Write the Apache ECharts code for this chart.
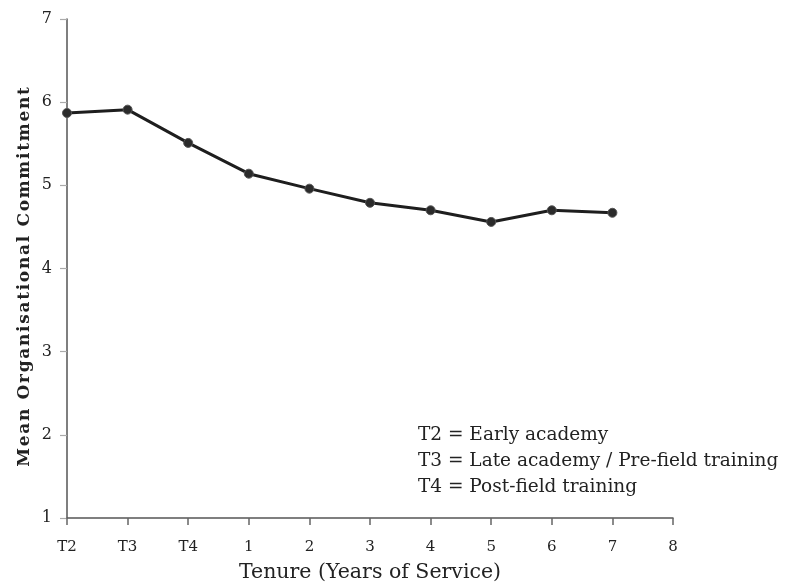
<!DOCTYPE html>
<html>
<head>
<meta charset="utf-8">
<script src="https://cdn.jsdelivr.net/npm/echarts@6/dist/echarts.min.js"></script>
<style>
  html, body { margin: 0; padding: 0; background: #fff; }
  #chart { width: 793px; height: 583px; }
</style>
</head>
<body>
<div id="chart"></div>
<script>
// Tenure points along the x axis (training stages, then years of service)
const tenureLabels = ['T2', 'T3', 'T4', '1', '2', '3', '4', '5', '6', '7', '8'];
// Mean organisational commitment at each tenure point (no value for year 8)
const meanCommitment = [5.87, 5.91, 5.51, 5.14, 4.96, 4.79, 4.70, 4.56, 4.70, 4.67, null];
// Value axis ticks
const yTicks = [1, 2, 3, 4, 5, 6, 7];
// Key for the training-stage codes
const keyLines = [
  'T2 = Early academy',
  'T3 = Late academy / Pre-field training',
  'T4 = Post-field training'
];
const xTitle = 'Tenure (Years of Service)';
const yTitle = 'Mean Organisational Commitment';

const serif = '"DejaVu Serif", "Liberation Serif", serif';
// spaced-out lettering for the vertical title
const spacedYTitle = yTitle.split('').join('\u200A');

const chart = echarts.init(document.getElementById('chart'), null, { renderer: 'canvas' });

chart.setOption({
  backgroundColor: '#ffffff',
  animation: false,
  grid: { left: 67, right: 120, top: 19, bottom: 65, containLabel: false, outerBoundsMode: 'none' },
  xAxis: {
    type: 'category',
    data: tenureLabels,
    boundaryGap: false,
    name: xTitle,
    nameLocation: 'middle',
    nameGap: 44,
    nameTextStyle: { fontFamily: serif, fontSize: 20.5, color: '#222' },
    axisLine: { lineStyle: { color: '#555', width: 1.5 } },
    axisTick: { show: true, length: 7, lineStyle: { color: '#666', width: 1.5 } },
    axisLabel: { fontFamily: serif, fontSize: 15, color: '#222', margin: 22, interval: 0 },
    splitLine: { show: false }
  },
  yAxis: {
    type: 'value',
    min: yTicks[0],
    max: yTicks[yTicks.length - 1],
    interval: 1,
    axisLine: { show: true, lineStyle: { color: '#555', width: 1.5 } },
    axisTick: { show: true, length: 7, lineStyle: { color: '#aaa', width: 1.2 } },
    axisLabel: { fontFamily: serif, fontSize: 16, color: '#222', margin: 15 },
    splitLine: { show: false }
  },
  series: [{
    type: 'line',
    data: meanCommitment,
    symbol: 'circle',
    symbolSize: 9,
    showSymbol: true,
    connectNulls: false,
    lineStyle: { color: '#1e1e1e', width: 3 },
    itemStyle: { color: '#2b2b2b', borderColor: '#555', borderWidth: 1 },
    z: 3
  }],
  graphic: [
    {
      type: 'text',
      x: 25,
      y: 277,
      rotation: Math.PI / 2,
      style: {
        text: spacedYTitle,
        fontFamily: serif,
        fontSize: 17,
        fontWeight: 'bold',
        fill: '#222',
        align: 'center',
        verticalAlign: 'middle'
      }
    }
  ].concat(keyLines.map((line, i) => ({
    type: 'text',
    left: 418,
    top: 426 + i * 26,
    style: { text: line, fontFamily: serif, fontSize: 18.5, fill: '#222' }
  })))
});
</script>
</body>
</html>
